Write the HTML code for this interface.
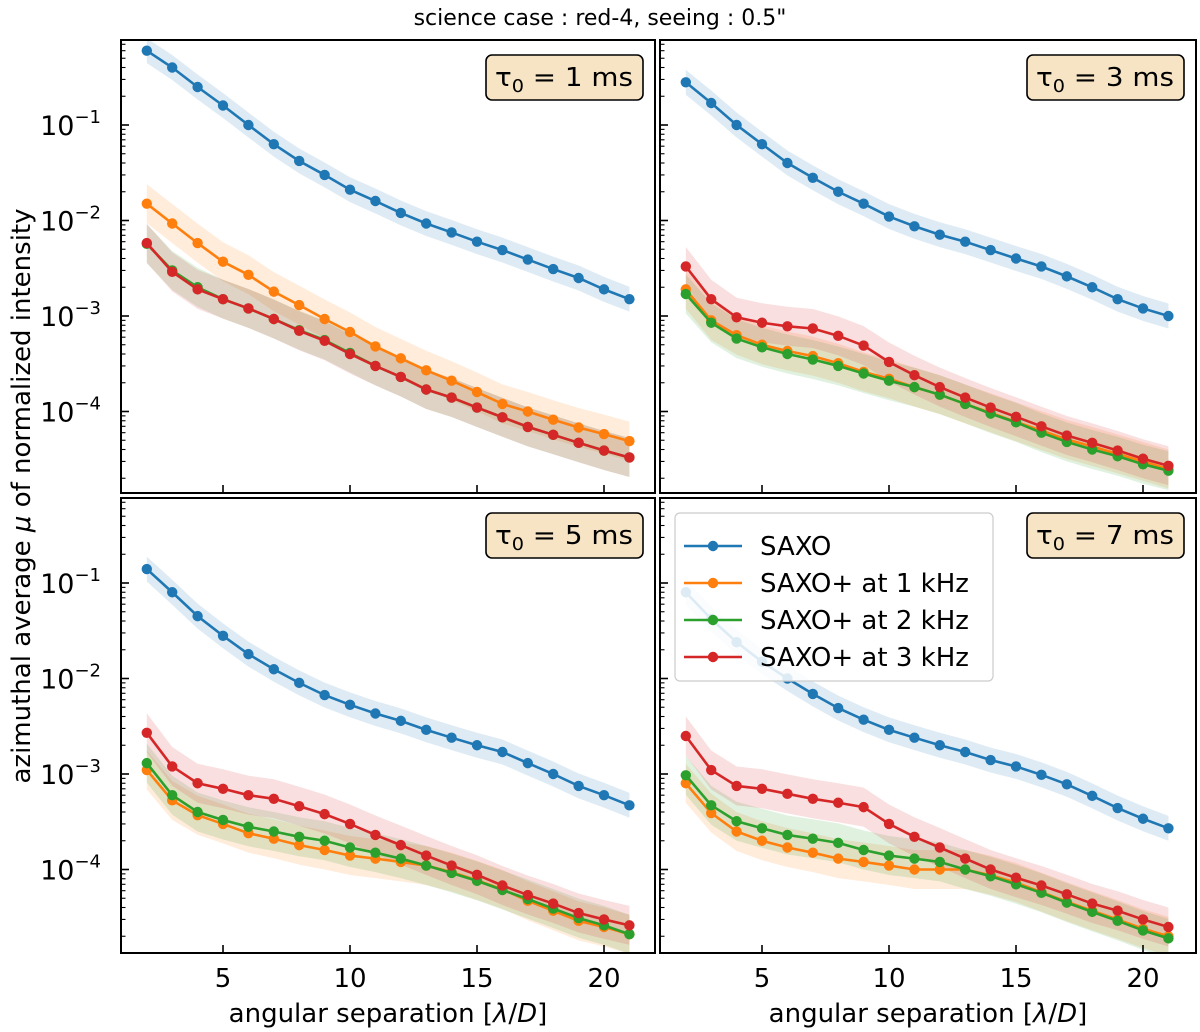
<!DOCTYPE html>
<html><head><meta charset="utf-8">
<style>
html,body{margin:0;padding:0;background:#fff;}
svg{display:block;font-family:"DejaVu Sans","Liberation Sans",sans-serif;}
</style></head>
<body>
<svg id="fig" width="1200" height="1032" viewBox="0 0 1200 1032">
<text x="600" y="25" font-size="22" text-anchor="middle">science case : red-4, seeing : 0.5"</text>
<text transform="translate(30,496) rotate(-90)" font-size="26" text-anchor="middle">azimuthal average <tspan font-style="italic">μ</tspan> of normalized intensity</text>
<text x="388" y="1022" font-size="26" text-anchor="middle">angular separation [<tspan font-style="italic">λ</tspan>/<tspan font-style="italic">D</tspan>]</text>
<text x="928" y="1022" font-size="26" text-anchor="middle">angular separation [<tspan font-style="italic">λ</tspan>/<tspan font-style="italic">D</tspan>]</text>
</svg>
<script>
const xs=[2,3,4,5,6,7,8,9,10,11,12,13,14,15,16,17,18,19,20,21];
const tauLabels=["1","3","5","7"];
const seriesNames=["SAXO","SAXO+ at 1 kHz","SAXO+ at 2 kHz","SAXO+ at 3 kHz"];
const colors=["#1f77b4","#ff7f0e","#2ca02c","#d62728"];
const bandFactor=[1.35,1.6,1.6,1.6];
const xTicks=[5,10,15,20];
const yTicks=[-1,-2,-3,-4];
const saxo1=[0.6,0.4,0.25,0.16,0.1,0.063,0.042,0.03,0.021,0.016,0.012,0.0093,0.0075,0.006,0.0049,0.0039,0.0031,0.0025,0.0019,0.0015];
const k1a1=[0.015,0.0093,0.0058,0.0037,0.0027,0.0018,0.0013,0.00093,0.00068,0.00048,0.00036,0.00027,0.00021,0.00016,0.00012,0.0001,0.000082,0.000068,0.000058,0.000049];
const k2a1=[0.0057,0.003,0.002,0.0015,0.0012,0.00093,0.00071,0.00056,0.00041,0.0003,0.00023,0.00017,0.00014,0.00011,0.000087,0.000069,0.000057,0.000047,0.000039,0.000033];
const k3a1=[0.0058,0.0029,0.0019,0.0015,0.0012,0.00093,0.0007,0.00055,0.0004,0.0003,0.00023,0.00017,0.00014,0.00011,0.000087,0.000069,0.000057,0.000047,0.000039,0.000033];
const saxo3=[0.28,0.17,0.1,0.063,0.04,0.028,0.02,0.015,0.011,0.0087,0.0071,0.006,0.0049,0.004,0.0033,0.0026,0.002,0.0015,0.0012,0.001];
const k1a3=[0.0019,0.0009,0.00063,0.0005,0.00043,0.00038,0.00032,0.00026,0.00022,0.00018,0.00015,0.00012,0.000097,0.000078,0.000063,0.000051,0.000043,0.000036,0.00003,0.000025];
const k2a3=[0.0017,0.00085,0.00058,0.00047,0.0004,0.00035,0.0003,0.00025,0.00021,0.00018,0.00015,0.00012,0.000095,0.000077,0.00006,0.000048,0.00004,0.000034,0.000028,0.000024];
const k3a3=[0.0033,0.0015,0.00097,0.00085,0.00078,0.00074,0.00062,0.00049,0.00033,0.00024,0.00018,0.00014,0.00011,0.000088,0.00007,0.000056,0.000047,0.000039,0.000032,0.000027];
const saxo5=[0.14,0.08,0.045,0.028,0.018,0.0125,0.009,0.0067,0.0053,0.0043,0.0036,0.0029,0.0024,0.002,0.0017,0.0013,0.001,0.00075,0.0006,0.00047];
const k1a5=[0.0011,0.00053,0.00037,0.0003,0.00024,0.00021,0.00018,0.00016,0.00014,0.00013,0.00012,0.00011,0.000094,0.000077,0.000062,0.000047,0.000037,0.000029,0.000025,0.000021];
const k2a5=[0.0013,0.0006,0.0004,0.00033,0.00028,0.00025,0.00022,0.0002,0.00017,0.00015,0.00013,0.00011,0.000092,0.000076,0.000061,0.000049,0.000039,0.000031,0.000026,0.000021];
const k3a5=[0.0027,0.0012,0.0008,0.0007,0.0006,0.00055,0.00046,0.00038,0.0003,0.00023,0.00018,0.00014,0.00011,0.000088,0.000068,0.000054,0.000044,0.000035,0.00003,0.000026];
const saxo7=[0.08,0.042,0.024,0.015,0.01,0.0069,0.0049,0.0037,0.0029,0.0024,0.002,0.0017,0.0014,0.0012,0.00098,0.00078,0.00059,0.00044,0.00034,0.00027];
const k1a7=[0.0008,0.00039,0.00025,0.0002,0.00017,0.00015,0.00013,0.00012,0.00011,0.0001,0.0001,0.0001,0.000087,0.000073,0.000058,0.000046,0.000037,0.00003,0.000024,0.00002];
const k2a7=[0.00097,0.00047,0.00032,0.00027,0.00023,0.00021,0.00019,0.00016,0.00014,0.00013,0.00012,0.0001,0.000085,0.00007,0.000057,0.000045,0.000036,0.000029,0.000023,0.000019];
const k3a7=[0.0025,0.0011,0.00075,0.0007,0.00062,0.00055,0.0005,0.00045,0.0003,0.00022,0.00017,0.00013,0.0001,0.000082,0.000068,0.000055,0.000044,0.000037,0.00003,0.000025];
const panelSeries=[[saxo1,k1a1,k2a1,k3a1],[saxo3,k1a3,k2a3,k3a3],[saxo5,k1a5,k2a5,k3a5],[saxo7,k1a7,k2a7,k3a7]];

const NS="http://www.w3.org/2000/svg";
const svg=document.getElementById('fig');
function mk(tag,attrs,parent){const e=document.createElementNS(NS,tag);for(const k in attrs)e.setAttribute(k,attrs[k]);(parent||svg).appendChild(e);return e;}
const panels=[{x:121,y:40,w:534,h:453},{x:660,y:40,w:536,h:453},{x:121,y:498,w:534,h:455},{x:660,y:498,w:536,h:455}];
const XMIN=0.984,PXU=25.4,PXD=95.5;
panels.forEach((p,pi)=>{
  const sx=v=>p.x+(v-XMIN)*PXU;
  const sy=v=>p.y+85+(-1-Math.log10(v))*PXD;
  const g=mk('g',{});
  
  
  const cp='clip'+pi;
  const defs=mk('defs',{},g);const c=mk('clipPath',{id:cp},defs);mk('rect',{x:p.x,y:p.y,width:p.w,height:p.h},c);
  const plot=mk('g',{'clip-path':'url(#'+cp+')'},g);
  panelSeries[pi].forEach((vals,si)=>{
    const f=bandFactor[si];
    let d='M'+xs.map((x,i)=>sx(x)+','+sy(vals[i]*f)).join('L');
    for(let i=xs.length-1;i>=0;i--)d+='L'+sx(xs[i])+','+sy(vals[i]/f);
    const band=mk('path',{d:d+'Z',fill:colors[si],'fill-opacity':0.15,stroke:'none'},plot);
    
    
  });
  panelSeries[pi].forEach((vals,si)=>{
    const line=mk('polyline',{points:xs.map((x,i)=>sx(x)+','+sy(vals[i])).join(' '),fill:'none',stroke:colors[si],'stroke-width':2.6},plot);
    
    
    xs.forEach((x,i)=>{
      const pt=mk('circle',{cx:sx(x),cy:sy(vals[i]),r:5.2,fill:colors[si]},plot);
      
      
    });
  });
  xTicks.forEach(t=>{
    mk('line',{x1:sx(t),x2:sx(t),y1:p.y+p.h,y2:p.y+p.h-8,stroke:'#000','stroke-width':1.6},g);
    if(pi>=2){const tl=mk('text',{x:sx(t),y:p.y+p.h+34,'font-size':26,'text-anchor':'middle'},g);tl.textContent=t;
      }
  });
  for(let dec=0;dec>=-6;dec--){
    for(let m=1;m<10;m++){
      const v=m*Math.pow(10,dec-1);const y=sy(v);
      if(y<p.y+1||y>p.y+p.h-1)continue;
      mk('line',{x1:p.x,x2:p.x+(m==1?8:4.5),y1:y,y2:y,stroke:'#000','stroke-width':m==1?1.6:1.1},g);
    }
  }
  if(pi%2==0){yTicks.forEach(e=>{
    const t=mk('text',{x:p.x-20,y:sy(Math.pow(10,e))+10,'font-size':27,'text-anchor':'end'},g);
    t.innerHTML='10<tspan dy="-12" font-size="18">−'+(-e)+'</tspan>';
    
  });}
  mk('rect',{x:p.x,y:p.y,width:p.w,height:p.h,fill:'none',stroke:'#000','stroke-width':2},g);
  const bx=p.x+p.w-169,by=p.y+15;
  const box=mk('rect',{x:bx,y:by,width:157,height:45,rx:6,fill:'#f6e4c4',stroke:'#000','stroke-width':1.6},g);
  
  const tt=mk('text',{x:bx+9,y:by+31,'font-size':26},g);
  tt.innerHTML='τ<tspan dy="6" font-size="18">0</tspan><tspan dy="-6"> = '+tauLabels[pi]+' ms</tspan>';
  
  tt.setAttribute('textLength','138');tt.setAttribute('lengthAdjust','spacingAndGlyphs');
});
const lg=mk('g',{});


mk('rect',{x:675,y:513,width:318,height:168,rx:5,fill:'#fff','fill-opacity':0.85,stroke:'#ccc','stroke-width':1.2},lg);
seriesNames.forEach((n,i)=>{
  const y=546+i*37;
  const e=mk('g',{},lg);
  
  
  mk('line',{x1:684,x2:742,y1:y,y2:y,stroke:colors[i],'stroke-width':2.6},e);
  mk('circle',{cx:713,cy:y,r:5.2,fill:colors[i]},e);
  const t=mk('text',{x:760,y:y+9,'font-size':26},e);t.textContent=n;
});
</script>
</body></html>
